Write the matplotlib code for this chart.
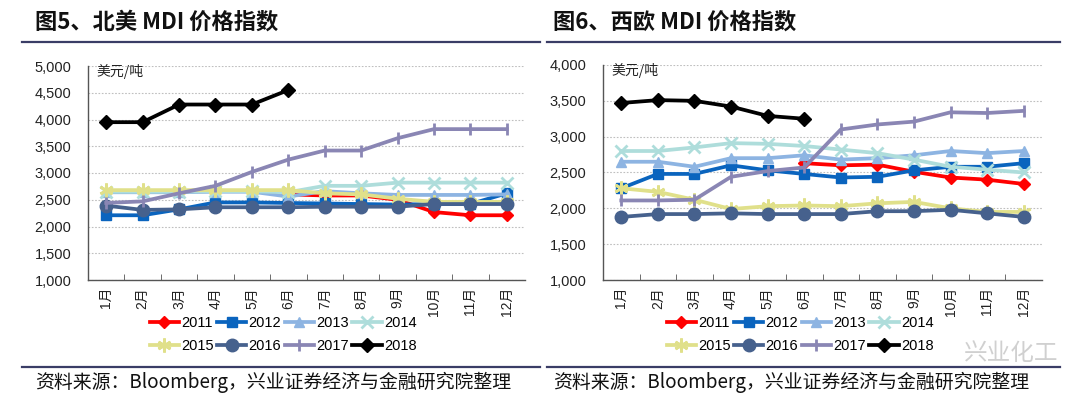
import numpy as np
import matplotlib
matplotlib.use("Agg")
import matplotlib.pyplot as plt
from matplotlib.lines import Line2D

plt.rcParams['font.family'] = ['Liberation Sans', 'Noto Sans CJK SC', 'DejaVu Sans']

nan = np.nan
months = ['1月', '2月', '3月', '4月', '5月', '6月', '7月', '8月', '9月', '10月', '11月', '12月']
years = ['2011', '2012', '2013', '2014', '2015', '2016', '2017', '2018']

# North America MDI price index (USD/t)
na_2011 = [nan, nan, nan, nan, nan, 2600, 2580, 2580, 2500, 2270, 2210, 2210]
na_2012 = [2210, 2210, 2320, 2450, 2450, 2440, 2430, 2420, 2410, 2420, 2420, 2620]
na_2013 = [2640, 2640, 2640, 2650, 2650, 2560, 2660, 2620, 2590, 2590, 2590, 2600]
na_2014 = [2650, 2650, 2650, 2660, 2660, 2640, 2760, 2760, 2820, 2820, 2820, 2820]
na_2015 = [2680, 2680, 2680, 2680, 2680, 2680, 2620, 2600, 2520, 2460, 2460, 2460]
na_2016 = [2390, 2310, 2320, 2360, 2360, 2360, 2370, 2370, 2370, 2420, 2420, 2420]
na_2017 = [2440, 2470, 2620, 2760, 3020, 3250, 3420, 3420, 3650, 3820, 3820, 3820]
na_2018 = [3950, 3950, 4280, 4280, 4280, 4550]

# Western Europe MDI price index (USD/t)
we_2011 = [nan, nan, nan, nan, nan, 2630, 2600, 2610, 2510, 2430, 2400, 2340]
we_2012 = [2280, 2480, 2480, 2600, 2530, 2480, 2430, 2440, 2530, 2580, 2580, 2630]
we_2013 = [2650, 2650, 2580, 2700, 2700, 2740, 2680, 2700, 2740, 2800, 2770, 2800]
we_2014 = [2800, 2800, 2850, 2910, 2900, 2870, 2820, 2770, 2680, 2580, 2540, 2500]
we_2015 = [2280, 2230, 2120, 1990, 2030, 2040, 2030, 2070, 2090, 2000, 1950, 1950]
we_2016 = [1880, 1920, 1920, 1930, 1920, 1920, 1920, 1960, 1960, 1980, 1930, 1880]
we_2017 = [2110, 2110, 2120, 2440, 2520, 2570, 3100, 3170, 3210, 3340, 3330, 3360]
we_2018 = [3470, 3510, 3500, 3420, 3290, 3250]

na_series = [na_2011, na_2012, na_2013, na_2014, na_2015, na_2016, na_2017, na_2018]
we_series = [we_2011, we_2012, we_2013, we_2014, we_2015, we_2016, we_2017, we_2018]

colors = ['#FF0000', '#0A64BE', '#8DB4E2', '#AEDDDB', '#E0E08A', '#46618D', '#8A86B4', '#000000']
markers = ['D', 's', '^', 'x', (6, 2, 0), 'o', '|', 'D']
msizes = [6, 7, 7, 9, 10, 9, 9, 7]

fig = plt.figure(figsize=(10.8, 4.08), dpi=100)
W, H = 1080.0, 408.0

def fx(px):
    return px / W

def fy(py):
    return 1 - py / H

def draw(ax, series, ymax):
    x = np.arange(len(months))
    handles = []
    for s, c, m, ms, lab in zip(series, colors, markers, msizes, years):
        vals = np.array(s, dtype=float)
        mew = 2.0 if m in ('x', '|', (6, 2, 0)) else 1.0
        h, = ax.plot(x[:len(vals)], vals, color=c, lw=2.7, marker=m, markersize=ms,
                     markeredgewidth=mew, markerfacecolor=c, markeredgecolor=c, label=lab,
                     solid_joinstyle='round')
        handles.append(h)
    ax.set_xlim(-0.5, len(months) - 0.5)
    ax.set_ylim(1000, ymax)
    ax.set_yticks(np.arange(1000, ymax + 1, 500))
    ax.set_yticklabels([f'{v:,}' for v in range(1000, ymax + 1, 500)])
    ax.set_xticks(x)
    ax.set_xticklabels(months, rotation=90)
    ax.set_xticks(np.arange(0.5, len(months) - 1, 1), minor=True)
    ax.tick_params(axis='x', which='major', length=0, pad=5, labelsize=10, colors='#222222')
    ax.tick_params(axis='x', which='minor', direction='in', length=4, color='#555555')
    ax.tick_params(axis='y', length=0, pad=12, labelsize=10.5, colors='#222222')
    ax.grid(axis='y', linestyle=(0, (1.5, 1.5)), color='#BFBFBF', lw=0.8)
    ax.set_axisbelow(True)
    for sp in ['top', 'right']:
        ax.spines[sp].set_visible(False)
    for sp in ['left', 'bottom']:
        ax.spines[sp].set_color('#555555')
        ax.spines[sp].set_linewidth(1.0)
    ax.text(0.02, 0.975, '美元/吨', transform=ax.transAxes, ha='left', va='center',
            fontsize=10, color='#222222', family=['Noto Sans CJK SC'])
    return handles

ax1 = fig.add_axes([fx(88), fy(280), fx(525 - 88), (280 - 66) / H])
h1 = draw(ax1, na_series, 5000)
ax2 = fig.add_axes([fx(603), fy(280), fx(1042 - 603), (280 - 65) / H])
h2 = draw(ax2, we_series, 4000)

# legend filled row by row (matplotlib fills column-wise, so reorder)
order = [0, 4, 1, 5, 2, 6, 3, 7]
for hs, cx in [(h1, 283), (h2, 800)]:
    fig.legend(handles=[hs[i] for i in order], labels=[years[i] for i in order],
               loc='center', bbox_to_anchor=(fx(cx), fy(334.5)),
               ncol=4, frameon=False, fontsize=10.5, handlelength=2.0, handletextpad=0.15,
               columnspacing=0.25, labelspacing=0.65, borderpad=0.2)

# titles, rules and sources
title_kw = dict(fontsize=16, fontweight='bold', color='#111111',
                family=['Noto Sans CJK SC', 'DejaVu Sans'], va='center', ha='left')
fig.text(fx(35), fy(22), '图5、北美 MDI 价格指数', **title_kw)
fig.text(fx(553), fy(22), '图6、西欧 MDI 价格指数', **title_kw)

rule_color = '#3A3D66'
for (x0, x1) in [(22, 540), (547, 1060)]:
    for yy in (41.5, 366.5):
        fig.add_artist(Line2D([fx(x0), fx(x1)], [fy(yy), fy(yy)], color=rule_color, lw=1.6))

src_kw = dict(fontsize=13.6, color='#111111', family=['Noto Sans CJK SC', 'DejaVu Sans'],
              va='center', ha='left')
fig.text(fx(35), fy(382), '资料来源：Bloomberg，兴业证券经济与金融研究院整理', **src_kw)
fig.text(fx(553), fy(382), '资料来源：Bloomberg，兴业证券经济与金融研究院整理', **src_kw)

# watermark
fig.text(fx(1058), fy(354), '兴业化工', fontsize=17, color='#C8C8C8', alpha=0.85,
         family=['Noto Sans CJK SC'], ha='right', va='center')

fig.savefig('out.png', dpi=100, facecolor='white')
